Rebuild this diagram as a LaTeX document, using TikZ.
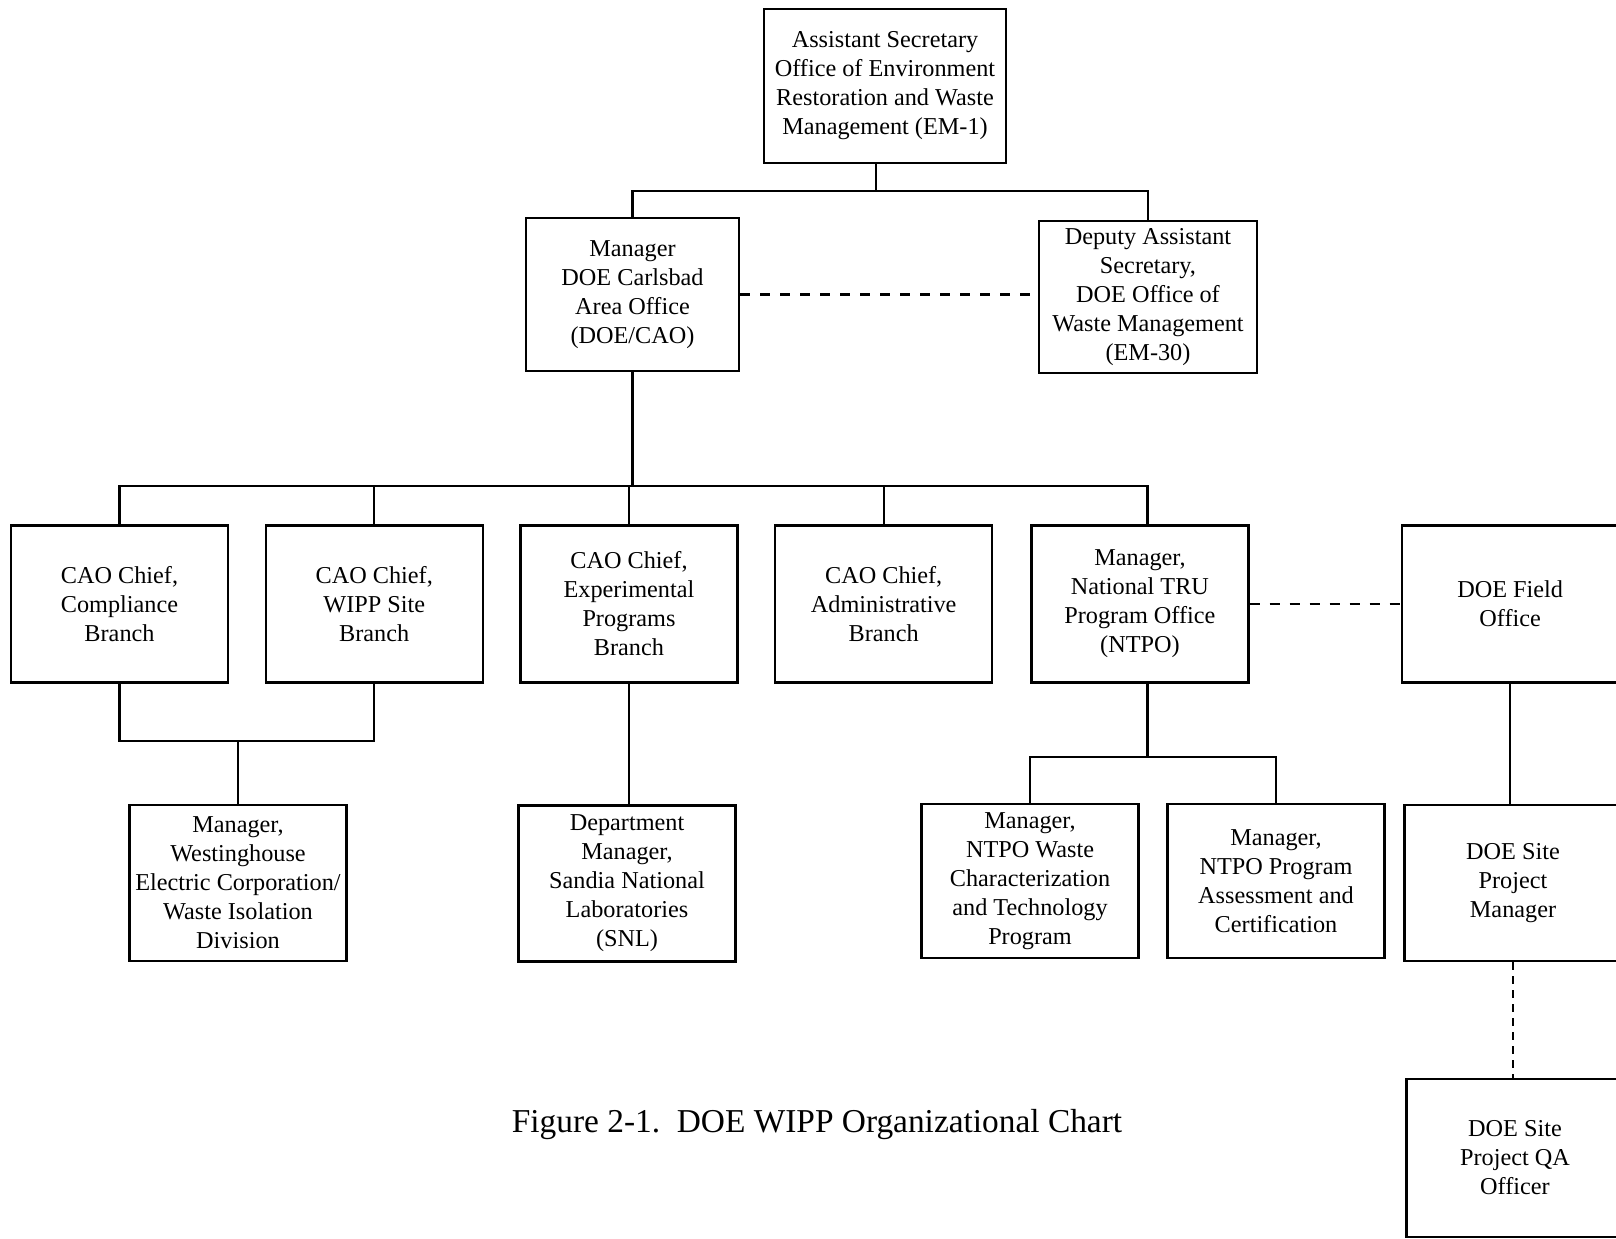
\documentclass[tikz,border=0pt]{standalone}
\usepackage{fontspec}
\setmainfont{Liberation Serif}
\usepackage{tikz}
\usetikzlibrary{positioning}
\tikzstyle{block} = [rectangle, draw, line width=1.3pt, align=center, inner sep=2pt,
    font=\fontsize{13.8}{16.5}\selectfont, minimum height=3.14cm, minimum width=4.34cm]
\tikzstyle{line} = [draw, line width=1.2pt]
\tikzstyle{dashline} = [draw, line width=1.2pt, dash pattern=on 0.2cm off 0.2cm]
\tikzstyle{dotline} = [draw, line width=1.4pt, dash pattern=on 0.16cm off 0.12cm]

\begin{document}
\begin{tikzpicture}[x=0.02cm, y=-0.02cm]
    \path [use as bounding box, fill=white] (0,0) rectangle (1616,1238);
    % Place nodes
    \node [block, minimum width=4.84cm, minimum height=3.08cm] (em1) at (885,86)
        {Assistant Secretary\\Office of Environment\\Restoration and Waste\\Management (EM-1)};
    \node [block, minimum width=4.26cm, minimum height=3.06cm] (cao) at (632.5,294.5)
        {Manager\\DOE Carlsbad\\Area Office\\(DOE/CAO)};
    \node [block, minimum width=4.36cm, minimum height=3.04cm] (dep) at (1148,297)
        {Deputy Assistant\\Secretary,\\DOE Office of\\Waste Management\\(EM-30)};

    \node [block] (comp) at (119.5,604) {CAO Chief,\\Compliance\\Branch};
    \node [block, right=0.71cm of comp] (wipp) {CAO Chief,\\WIPP Site\\Branch};
    \node [block, right=0.71cm of wipp] (exp) {CAO Chief,\\Experimental\\Programs\\Branch};
    \node [block, right=0.71cm of exp] (adm) {CAO Chief,\\Administrative\\Branch};
    \node [block, right=0.74cm of adm] (ntpo) {Manager,\\National TRU\\Program Office\\(NTPO)};
    \node [block, right=3.02cm of ntpo] (field) {DOE Field\\Office};

    \node [block, minimum height=3.12cm] (west) at (238,883)
        {Manager,\\Westinghouse\\Electric Corporation/\\Waste Isolation\\Division};
    \node [block, minimum height=3.12cm] (snl) at (627,883.5)
        {Department\\Manager,\\Sandia National\\Laboratories\\(SNL)};
    \node [block, minimum height=3.08cm] (wct) at (1030,881)
        {Manager,\\NTPO Waste\\Characterization\\and Technology\\Program};
    \node [block, minimum height=3.08cm] (pac) at (1276,881)
        {Manager,\\NTPO Program\\Assessment and\\Certification};
    \node [block, minimum height=3.12cm] (spm) at (1513,883) {DOE Site\\Project\\Manager};
    \node [block, minimum height=3.16cm] (qa) at (1515,1158) {DOE Site\\Project QA\\Officer};

    \node [font=\fontsize{19}{22}\selectfont] (caption) at (817,1125)
        {Figure 2-1.\ \ DOE WIPP Organizational Chart};

    % Draw edges
    \path [line] ([xshift=-0.18cm]em1.south) -- ([xshift=-0.18cm]em1.south |- 0,191);
    \path [line] (cao.north) |- (dep.north |- 0,191) -- (dep.north);
    \path [dashline] (cao.east) -- (cao.east -| dep.west);

    \path [line] (cao.south) -- (cao.south |- 0,486);
    \path [line] (comp.north) |- ([xshift=0.15cm]ntpo.north |- 0,486) -- ([xshift=0.15cm]ntpo.north);
    \path [line] (wipp.north) -- (wipp.north |- 0,486);
    \path [line] (exp.north) -- (exp.north |- 0,486);
    \path [line] (adm.north) -- (adm.north |- 0,486);
    \path [dashline] (ntpo.east) -- (field.west);

    \path [line] (comp.south) |- (wipp.south |- 0,741) -- (wipp.south);
    \path [line] (west.north) -- (west.north |- 0,741);
    \path [line] (exp.south) -- (exp.south |- snl.north);
    \path [line] ([xshift=0.15cm]ntpo.south) -- ([xshift=0.15cm]ntpo.south |- 0,757);
    \path [line] (wct.north) |- (pac.north |- 0,757) -- (pac.north);
    \path [line] (field.south) -- (field.south |- spm.north);
    \path [dotline] (spm.south) -- (spm.south |- qa.north);
\end{tikzpicture}
\end{document}
